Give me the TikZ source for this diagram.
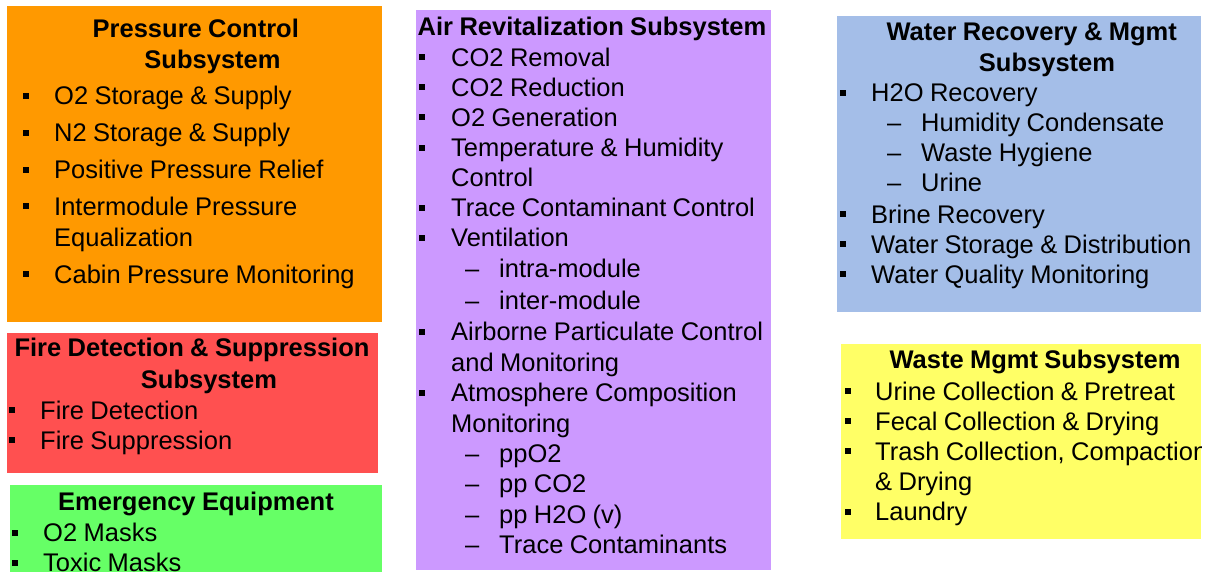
\documentclass[tikz,border=0pt]{standalone}
\usepackage{fontspec}
\setmainfont{Liberation Sans}[WordSpace=0.9]
\definecolor{cOrange}{HTML}{FF9900}
\definecolor{cRed}{HTML}{FF5050}
\definecolor{cGreen}{HTML}{66FF66}
\definecolor{cPurple}{HTML}{CC99FF}
\definecolor{cBlue}{HTML}{A4BEE8}
\definecolor{cYellow}{HTML}{FFFF66}
\newcommand\myblt[1][31pt]{\makebox[#1][l]{\rule[6pt]{6pt}{6pt}}}
\newcommand\mydsh{\makebox[34pt][l]{–}}
\begin{document}
\begin{tikzpicture}[x=1pt,y=-1pt,
  box/.style={draw=none,inner sep=0,outer sep=0,anchor=north west},
  ttl/.style={font=\fontsize{25.5}{30}\selectfont\bfseries,anchor=base,inner sep=0},
  itm/.style={font=\fontsize{25.5}{30}\selectfont,anchor=base west,inner sep=0}]
\useasboundingbox (0,0) rectangle (1210,571);
\clip (0,0) rectangle (1210,571);
% boxes
\node[box,fill=cOrange,minimum width=375pt,minimum height=316pt] (pcs) at (7,6) {};
\node[box,fill=cRed,minimum width=371pt,minimum height=140pt] (fds) at (7,333) {};
\node[box,fill=cGreen,minimum width=372pt,minimum height=90pt] (eme) at (10,485) {};
\node[box,fill=cPurple,minimum width=355pt,minimum height=560pt] (ars) at (416,10) {};
\node[box,fill=cBlue,minimum width=364pt,minimum height=296pt] (wrm) at (837,16) {};
\node[box,fill=cYellow,minimum width=360pt,minimum height=195pt] (wms) at (841,344) {};
% Pressure control
\node[ttl] (pcs-t1) at (195.8,37) {Pressure Control};
\node[ttl] (pcs-t2) at (212.5,68.3) {Subsystem};
\node[itm] (pcs-1) at (23,104.5) {\myblt O2 Storage \& Supply};
\node[itm] (pcs-2) at (23,141.5) {\myblt N2 Storage \& Supply};
\node[itm] (pcs-3) at (23,178.5) {\myblt Positive Pressure Relief};
\node[itm] (pcs-4) at (23,215) {\myblt Intermodule Pressure};
\node[itm] (pcs-4b) at (54,246) {Equalization};
\node[itm] (pcs-5) at (23,283) {\myblt Cabin Pressure Monitoring};
% Fire detection
\node[ttl] (fds-t1) at (192,356.7) {Fire Detection \& Suppression};
\node[ttl] (fds-t2) at (209,388.3) {Subsystem};
\node[itm] (fds-1) at (9,419) {\myblt Fire Detection};
\node[itm] (fds-2) at (9,449) {\myblt Fire Suppression};
% Emergency
\node[ttl] (eme-t1) at (196,510) {Emergency Equipment};
\node[itm] (eme-1) at (12,541.7) {\myblt O2 Masks};
\node[itm] (eme-2) at (12,571.7) {\myblt Toxic Masks};
% Air revitalization
\node[ttl] (ars-t1) at (592,35) {Air Revitalization Subsystem};
\node[itm] (ars-1) at (418.5,66) {\myblt[32.5pt]CO2 Removal};
\node[itm] (ars-2) at (418.5,96) {\myblt[32.5pt]CO2 Reduction};
\node[itm] (ars-3) at (418.5,126) {\myblt[32.5pt]O2 Generation};
\node[itm] (ars-4) at (418.5,156.5) {\myblt[32.5pt]Temperature \& Humidity};
\node[itm] (ars-4b) at (451,186.5) {Control};
\node[itm] (ars-5) at (418.5,216.5) {\myblt[32.5pt]Trace Contaminant Control};
\node[itm] (ars-6) at (418.5,246.5) {\myblt[32.5pt]Ventilation};
\node[itm] (ars-6a) at (465,277) {\mydsh intra-module};
\node[itm] (ars-6b) at (465,309) {\mydsh inter-module};
\node[itm] (ars-7) at (418.5,340.5) {\myblt[32.5pt]Airborne Particulate Control};
\node[itm] (ars-7b) at (451,371) {and Monitoring};
\node[itm] (ars-8) at (418.5,401.5) {\myblt[32.5pt]Atmosphere Composition};
\node[itm] (ars-8b) at (451,432) {Monitoring};
\node[itm] (ars-8c) at (465,462) {\mydsh ppO2};
\node[itm] (ars-8d) at (465,492.5) {\mydsh pp CO2};
\node[itm] (ars-8e) at (465,523) {\mydsh pp H2O (v)};
\node[itm] (ars-8f) at (465,553.5) {\mydsh Trace Contaminants};
% Water recovery
\node[ttl] (wrm-t1) at (1031.7,40) {Water Recovery \& Mgmt};
\node[ttl] (wrm-t2) at (1047,71) {Subsystem};
\node[itm] (wrm-1) at (840,101.7) {\myblt H2O Recovery};
\node[itm] (wrm-1a) at (887,131.7) {\mydsh Humidity Condensate};
\node[itm] (wrm-1b) at (887,161.7) {\mydsh Waste Hygiene};
\node[itm] (wrm-1c) at (887,191.7) {\mydsh Urine};
\node[itm] (wrm-2) at (840,223.3) {\myblt Brine Recovery};
\node[itm] (wrm-3) at (840,253.3) {\myblt Water Storage \& Distribution};
\node[itm] (wrm-4) at (840,283.3) {\myblt Water Quality Monitoring};
% Waste mgmt
\begin{scope}
\clip (wms.north west) rectangle (wms.south east);
\node[ttl] (wms-t1) at (1035,368.3) {Waste Mgmt Subsystem};
\node[itm] (wms-1) at (845,400) {\myblt[30pt]Urine Collection \& Pretreat};
\node[itm] (wms-2) at (845,430) {\myblt[30pt]Fecal Collection \& Drying};
\node[itm] (wms-3) at (845,460) {\myblt[30pt]Trash Collection, Compaction};
\node[itm] (wms-3b) at (875,490) {\& Drying};
\node[itm] (wms-4) at (845,520.7) {\myblt[30pt]Laundry};
\end{scope}
\end{tikzpicture}
\end{document}
